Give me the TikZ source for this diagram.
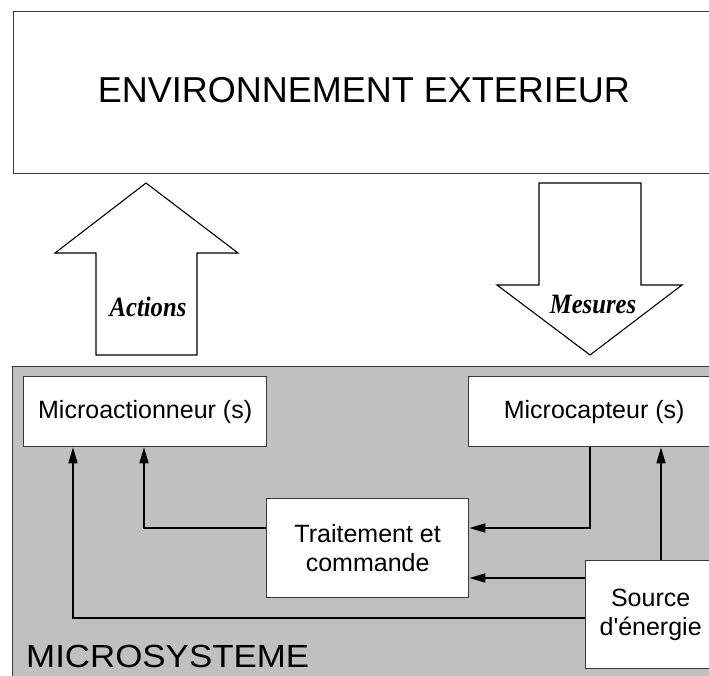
\documentclass[tikz,border=0pt]{standalone}
\usepackage{fontspec}
\setmainfont{Liberation Sans}[Ligatures=TeXOff]
\newfontfamily\tnr{Liberation Serif}
\usetikzlibrary{arrows.meta}
\definecolor{sysgray}{HTML}{C0C0C0}
\definecolor{edge}{HTML}{383838}
\begin{document}
\begin{tikzpicture}[x=1pt,y=-1pt,
  box/.style={draw=edge,line width=1.3pt,fill=white,inner sep=0pt,anchor=north west,align=center,font=\fontsize{25}{29}\selectfont},
  conn/.style={draw=black,line width=1.5pt,-{Triangle[length=16pt,width=9pt]}},
  bigarrow/.style={draw=black,line width=1.1pt,fill=white,line join=miter},
  lbl/.style={font=\tnr\bfseries\itshape\fontsize{28}{30}\selectfont,xscale=0.88}]
\useasboundingbox (0,0) rectangle (709,675);
\clip (0,0) rectangle (709,675);
% outer environment
\node[draw=edge,line width=1.3pt,fill=white,anchor=north west,minimum width=710pt,minimum height=162pt,inner sep=0pt] (env) at (12.5,11) {};
\node[font=\fontsize{36}{40}\selectfont,inner sep=0pt] (envtxt) at (364,90) {ENVIRONNEMENT EXTERIEUR};
% microsystem
\node[draw=edge,line width=1.3pt,fill=sysgray,anchor=north west,minimum width=720pt,minimum height=330pt,inner sep=0pt] (sys) at (12,366) {};
\node[anchor=base west,inner sep=0pt,font=\fontsize{32}{34}\selectfont,xscale=1.09] (systxt) at (26,667) {MICROSYSTEME};
% big arrows
\path[bigarrow] (96,355) -- (96,253) -- (55,253) -- (146,183) -- (238,253) -- (197,253) -- (197,355) -- cycle;
\node[lbl,anchor=base] (act) at (148,316) {Actions};
\path[bigarrow] (539,183) -- (641,183) -- (641,285) -- (682,285) -- (590,355) -- (497,285) -- (539,285) -- cycle;
\node[lbl,anchor=base] (mes) at (593,313) {Mesures};
% blocks
\node[box,minimum width=243pt,minimum height=70pt] (ma) at (23,376) {Microactionneur (s)};
\node[box,minimum width=251pt,minimum height=70pt] (mc) at (468,376) {Microcapteur (s)};
\node[box,minimum width=202pt,minimum height=99pt] (tc) at (266,498) {Traitement et\\commande};
\node[box,minimum width=130pt,minimum height=108pt] (src) at (585,560) {Source\\d'énergie};
% connectors
\coordinate (b1) at (590,528);
\coordinate (ys) at (0,578);
\coordinate (xs) at (661,0);
\coordinate (b2) at (144,528);
\coordinate (b3) at (73,618);
\draw[conn] (mc.south -| b1) -- (b1) -- (tc.east |- b1);
\draw[conn] (src.west |- ys) -- (tc.east |- ys);
\draw[conn] (src.north -| xs) -- (mc.south -| xs);
\draw[conn] (tc.west |- b2) -- (b2) -- (ma.south -| b2);
\draw[conn] (src.west |- b3) -- (b3) -- (ma.south -| b3);
\end{tikzpicture}
\end{document}
